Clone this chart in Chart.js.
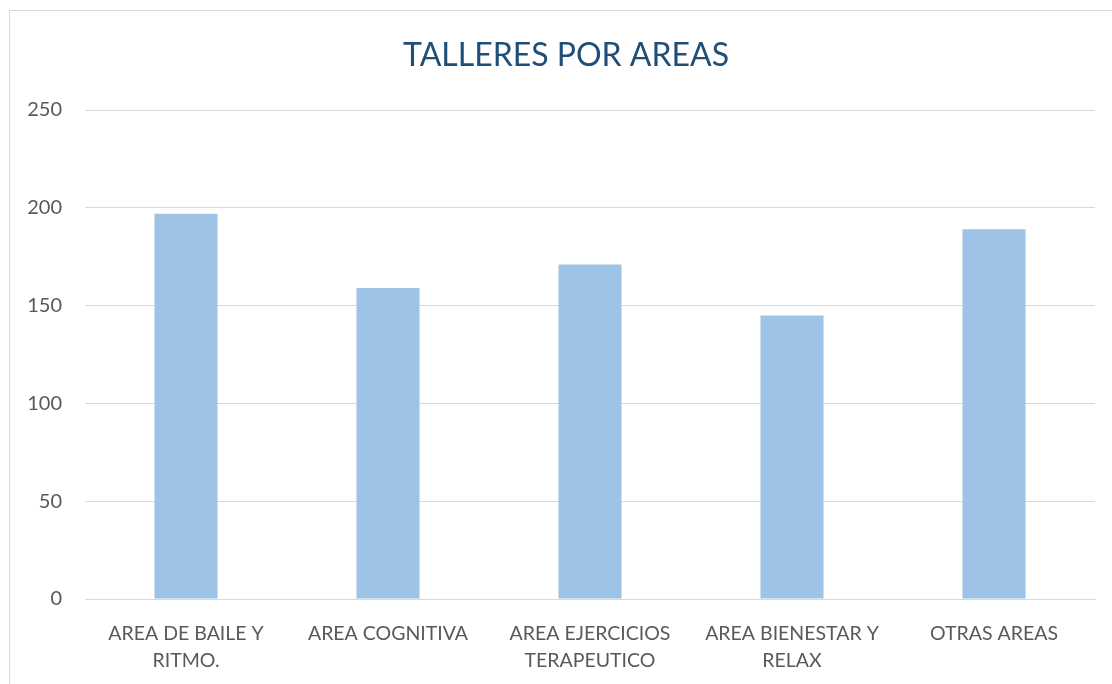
<!DOCTYPE html>
<html>
<head>
<meta charset="utf-8">
<script src="https://cdn.jsdelivr.net/npm/chart.js@4.4.1/dist/chart.umd.min.js"></script>
<style>
  html, body { margin: 0; padding: 0; background: #ffffff; }
  #wrap { position: absolute; left: 0; top: 0; width: 1112px; height: 684px; }
  #frame { position: absolute; left: 9px; top: 10px; width: 1114px; height: 700px; border: 1px solid #d9d9d9; box-sizing: border-box; }
</style>
</head>
<body>
<div id="wrap">
  <div id="frame"></div>
  <canvas id="c" width="1112" height="684"></canvas>
</div>
<script>
const categories = [
  ["AREA DE BAILE Y", "RITMO."],
  ["AREA COGNITIVA"],
  ["AREA EJERCICIOS", "TERAPEUTICO"],
  ["AREA BIENESTAR Y", "RELAX"],
  ["OTRAS AREAS"]
];
const values = [197, 159, 171, 145, 189];
const yTicks = [0, 50, 100, 150, 200, 250];
const titleText = "TALLERES POR AREAS";

const FONT = "Lato, 'Open Sans', sans-serif";

// Title centred on the full chart frame (which extends past the right edge)
const frameTitle = {
  id: 'frameTitle',
  afterDraw(chart) {
    const ctx = chart.ctx;
    ctx.save();
    ctx.font = "32px " + FONT;
    ctx.fillStyle = '#1f4e79';
    ctx.textAlign = 'center';
    ctx.textBaseline = 'middle';
    ctx.fillText(titleText, 566, 56);
    ctx.restore();
  }
};

new Chart(document.getElementById('c'), {
  type: 'bar',
  data: {
    labels: categories,
    datasets: [{
      data: values,
      backgroundColor: '#9dc3e6',
      borderWidth: 0,
      barPercentage: 0.312,
      categoryPercentage: 1.0
    }]
  },
  plugins: [frameTitle],
  options: {
    responsive: false,
    animation: false,
    layout: { padding: { top: 110, left: 0, right: 17, bottom: 0 } },
    plugins: {
      legend: { display: false },
      tooltip: { enabled: false },
      title: { display: false }
    },
    scales: {
      x: {
        grid: { display: false, drawTicks: false },
        border: { display: true, color: '#d9d9d9', width: 1 },
        ticks: {
          color: '#595959',
          font: { family: FONT, size: 19.5, lineHeight: 1.38 },
          padding: 21,
          maxRotation: 0,
          autoSkip: false
        },
        afterFit: (s) => { s.height = 85; }
      },
      y: {
        min: 0,
        max: 250,
        afterBuildTicks: (s) => { s.ticks = yTicks.map(v => ({ value: v })); },
        grid: { color: '#d9d9d9', lineWidth: 1, drawTicks: false },
        border: { display: false },
        ticks: {
          color: '#595959',
          font: { family: FONT, size: 20 },
          padding: 23
        },
        afterFit: (s) => { s.width = 85; }
      }
    }
  }
});
</script>
</body>
</html>
